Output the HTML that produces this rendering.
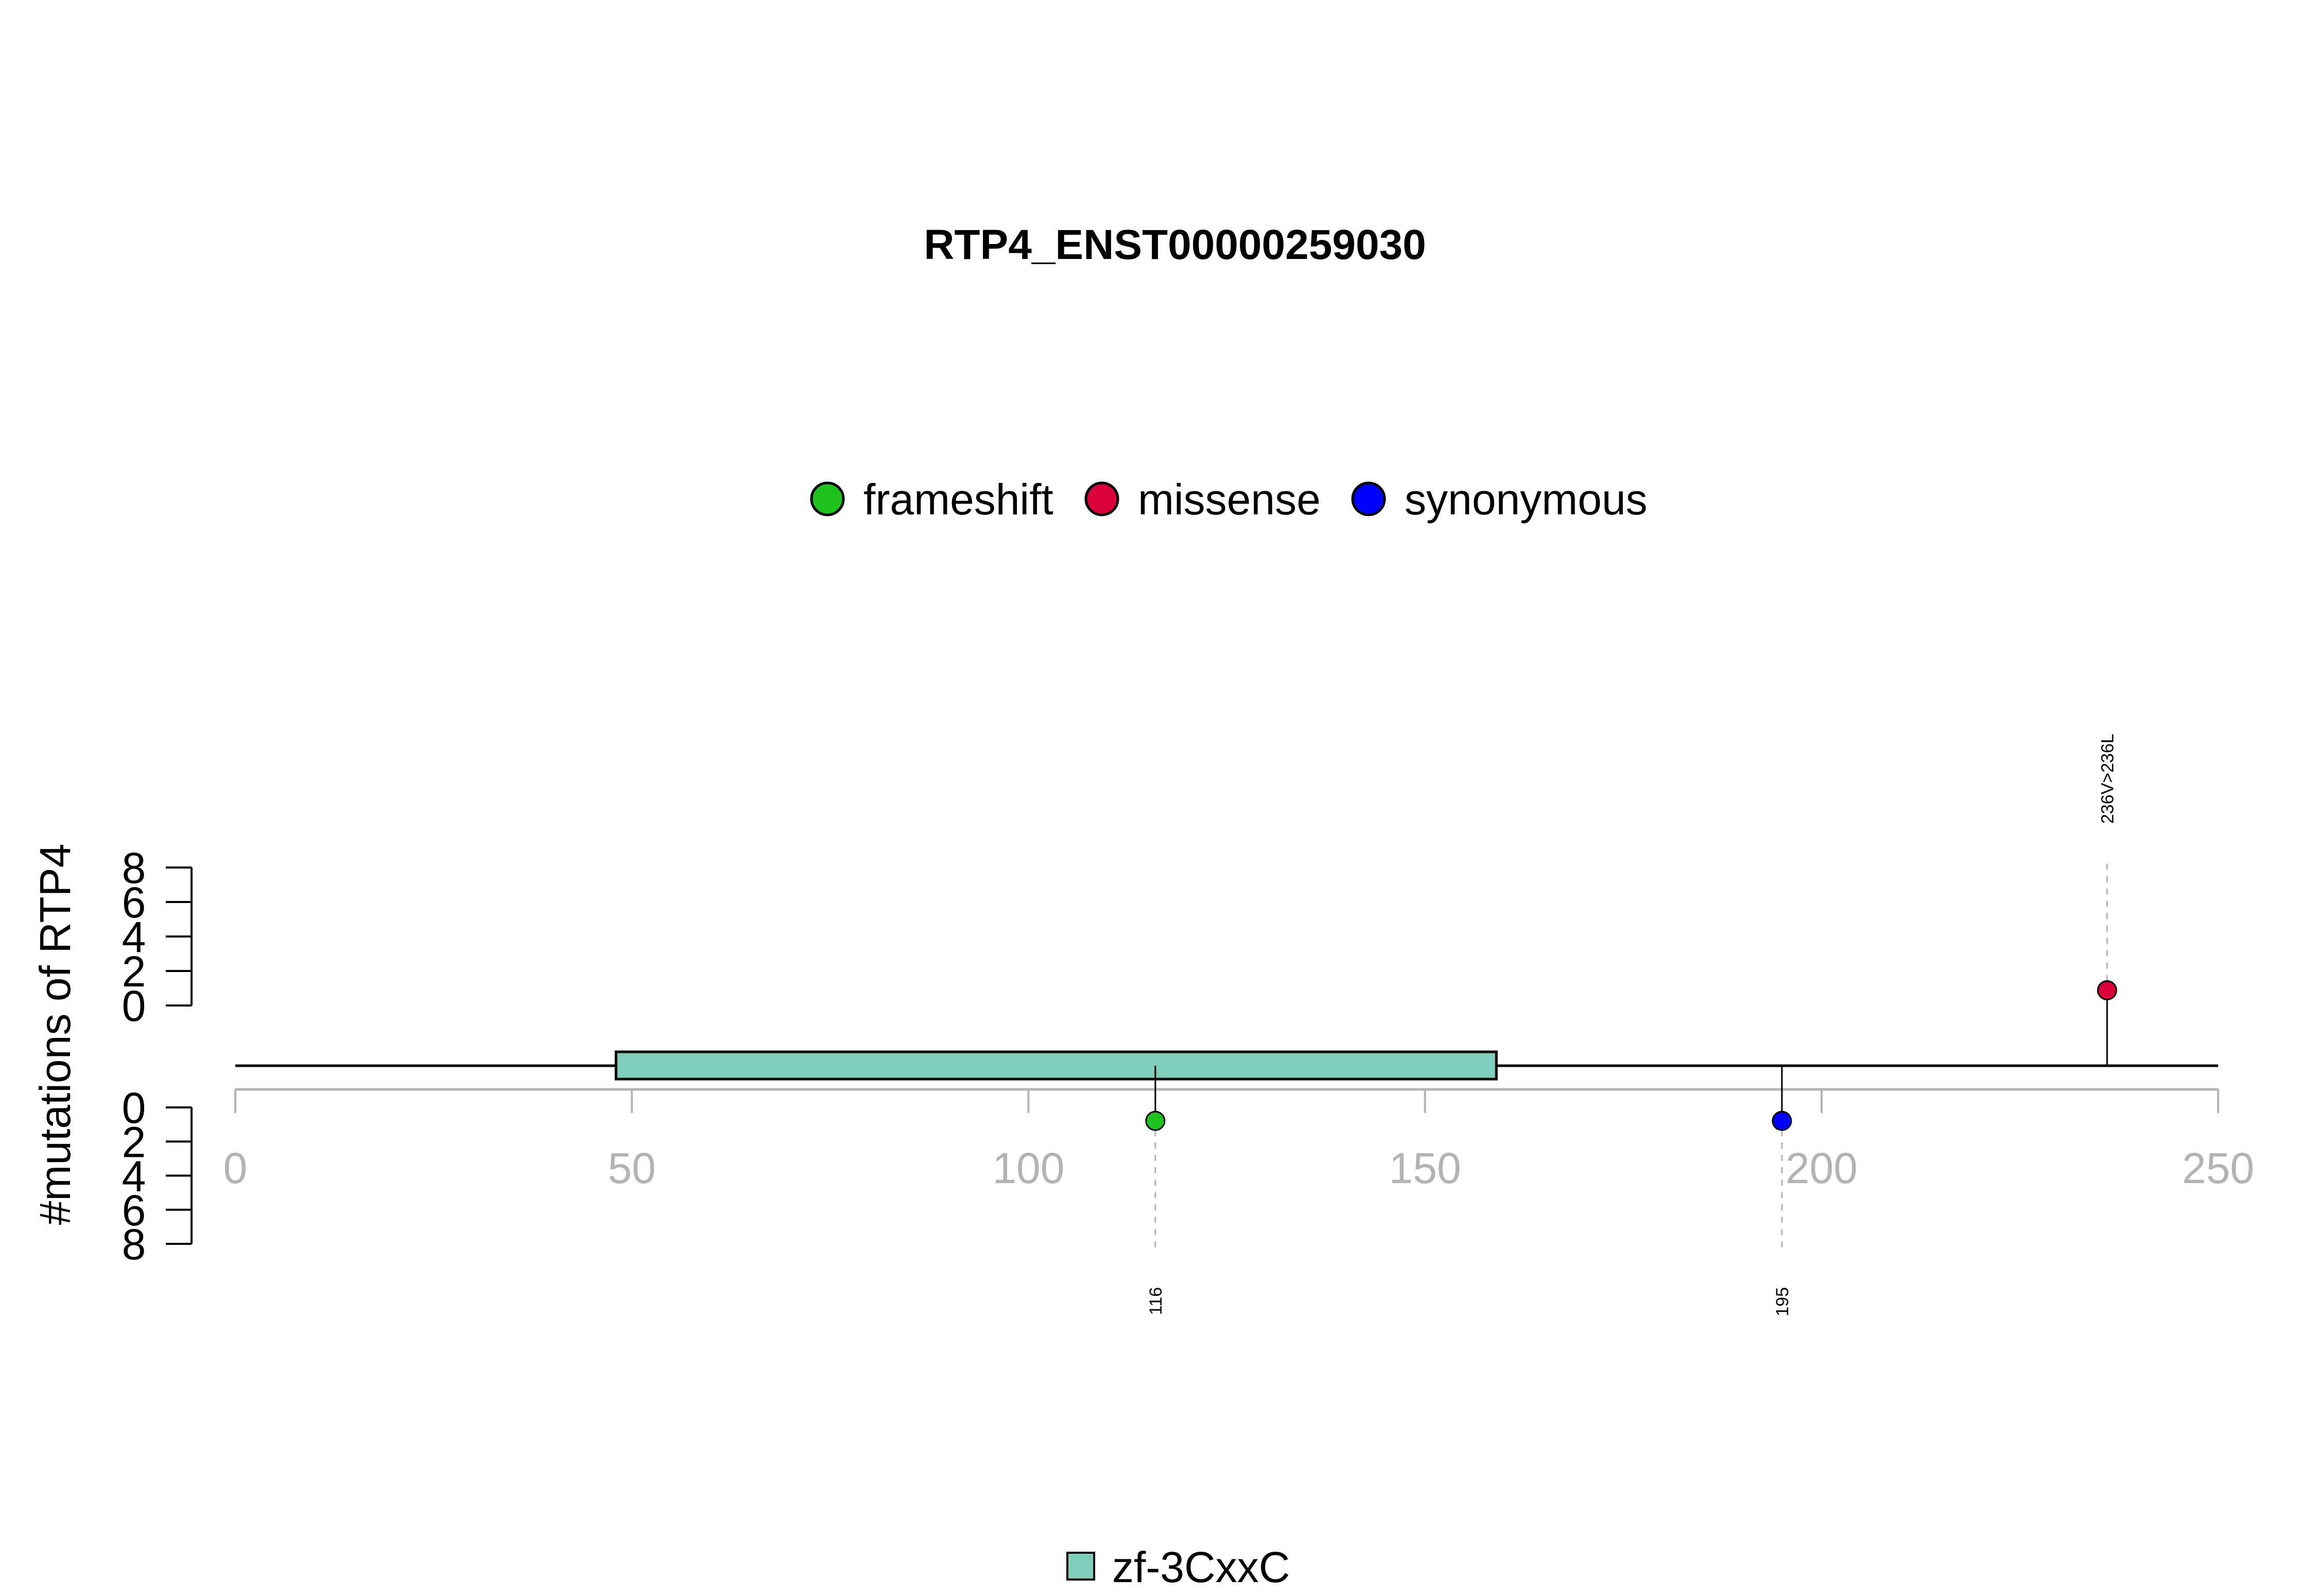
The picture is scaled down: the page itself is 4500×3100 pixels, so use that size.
<!DOCTYPE html>
<html><head><meta charset="utf-8"><style>
html,body{margin:0;padding:0;background:#fff}
svg{display:block;font-family:"Liberation Sans",Arial,sans-serif}
</style></head><body>
<svg id="chart" width="4500" height="3100" viewBox="0 0 4500 3100" xmlns="http://www.w3.org/2000/svg">
<text x="2282" y="503" font-size="82" font-weight="bold" text-anchor="middle">RTP4_ENST00000259030</text>
<g id="legend"></g>
<g id="plot"></g>
<g>
<rect x="2073" y="3016" width="52" height="52" fill="#7fcdbb" stroke="#000" stroke-width="4"/>
<text x="2160" y="3073" font-size="84">zf-3CxxC</text>
</g>
</svg>
<script>
const xTicks = [0, 50, 100, 150, 200, 250];
const yTicks = [0, 2, 4, 6, 8];
const positions = [116, 195, 236];
const counts = [1, 1, 1];
const sides = ["down", "down", "up"];
const types = ["frameshift", "synonymous", "missense"];
const labels = ["116", "195", "236V>236L"];
const domainStart = [48];
const domainEnd = [159];
const domainNames = ["zf-3CxxC"];
const legendNames = ["frameshift", "missense", "synonymous"];
const colors = {frameshift: "#1ec31e", missense: "#dc0039", synonymous: "#0000ff"};

const NS = "http://www.w3.org/2000/svg";
const x = v => 457 + v * (4308 - 457) / 250;
const yUp = v => 1953 - v * (1953 - 1685) / 8;
const yDown = v => 2151 + v * (2416 - 2151) / 8;
function mk(tag, attrs, parent) {
  const e = document.createElementNS(NS, tag);
  for (const k in attrs) e.setAttribute(k, attrs[k]);
  parent.appendChild(e);
  return e;
}
const plot = document.getElementById("plot");
const legend = document.getElementById("legend");

const legX = [1607, 2140, 2658];
legendNames.forEach((n, i) => {
  const c = mk("circle", {cx: legX[i], cy: 969, r: 31, fill: colors[n], stroke: "#000", "stroke-width": 5}, legend);
  
  
  const t = mk("text", {x: legX[i] + 70, y: 999, "font-size": 84}, legend);
  t.textContent = n;
  
  
});

const yt = mk("text", {x: 0, y: 0, "font-size": 84, "text-anchor": "middle", transform: "translate(136,2009) rotate(-90)"}, plot);
yt.textContent = "#mutations of RTP4";


[yUp, yDown].forEach((fy, k) => {
  const ax = mk("line", {x1: 372, x2: 372, y1: fy(0), y2: fy(8), stroke: "#000", "stroke-width": 4}, plot);
  
  
  yTicks.forEach(v => {
    const tk = mk("line", {x1: 322, x2: 372, y1: fy(v), y2: fy(v), stroke: "#000", "stroke-width": 4}, plot);
    
    
    const tl = mk("text", {x: 260, y: fy(v) + 30, "font-size": 84, "text-anchor": "middle"}, plot);
    tl.textContent = v;
    
    
  });
});

const xa = mk("line", {x1: x(0), x2: x(250), y1: 2116, y2: 2116, stroke: "#b3b3b3", "stroke-width": 5}, plot);


xTicks.forEach(v => {
  const tk = mk("line", {x1: x(v), x2: x(v), y1: 2116, y2: 2162, stroke: "#b3b3b3", "stroke-width": 4}, plot);
  
  
  const tl = mk("text", {x: x(v), y: 2298, "font-size": 84, fill: "#b3b3b3", "text-anchor": "middle"}, plot);
  tl.textContent = v;
  
  
});

const bb = mk("line", {x1: x(0), x2: x(250), y1: 2070, y2: 2070, stroke: "#000", "stroke-width": 5}, plot);


domainStart.forEach((s, i) => {
  const r = mk("rect", {x: x(s), y: 2043, width: x(domainEnd[i]) - x(s), height: 53, fill: "#7fcdbb", stroke: "#000", "stroke-width": 5}, plot);
  
  
});

positions.forEach((p, i) => {
  const up = sides[i] === "up";
  const px = x(p);
  const py = up ? yUp(counts[i]) + 4 : yDown(counts[i]) - 7;
  const st = mk("line", {x1: px, x2: px, y1: 2070, y2: py, stroke: "#000", "stroke-width": 3}, plot);
  
  
  const dash = mk("line", {x1: px, x2: px, y1: up ? py - 18 : py + 18, y2: up ? 1674 : 2431, stroke: "#b3b3b3", "stroke-width": 3, "stroke-dasharray": "12 12"}, plot);
  
  
  const c = mk("circle", {cx: px, cy: py, r: 18, fill: colors[types[i]], stroke: "#000", "stroke-width": 3}, plot);
  
  
  const ty = up ? 1600 : 2500;
  const t = mk("text", {x: 0, y: 0, "font-size": 34, "text-anchor": up ? "start" : "end", transform: `translate(${px + 12},${ty}) rotate(-90)`}, plot);
  t.textContent = labels[i];
  
  
});
</script>
</body></html>
